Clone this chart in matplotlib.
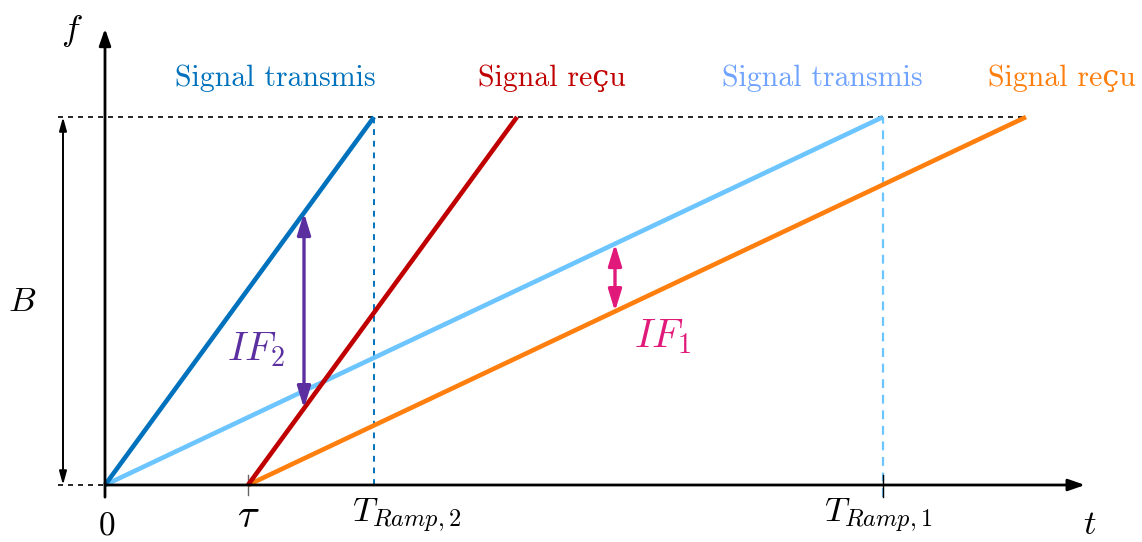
import matplotlib
matplotlib.use("Agg")
import matplotlib.pyplot as plt
import numpy as np

plt.rcParams['mathtext.fontset'] = 'cm'

# chirp parameters (arbitrary units, B = 1)
B = 1.0
tau = 1.43
T_ramp2 = 2.69
T_ramp1 = 7.78
t_if2 = 1.99
t_if1 = 5.10

c_tx2 = '#0072BD'
c_rx2 = '#C00000'
c_tx1 = '#6CC5FF'
c_tx1_txt = '#6FA3FF'
c_rx1 = '#FF7F0E'
c_if2 = '#5B2FA0'
c_if1 = '#E0197A'

text_font = ['cmr10', 'DejaVu Serif']

fig = plt.figure(figsize=(11.42, 5.42), dpi=100)
ax = fig.add_axes([0, 0, 1, 1])
ax.set_xlim(-1.05, 10.37)
ax.set_ylim(-0.1549, 1.318)
ax.axis('off')

# axes with arrows
ax.annotate('', xy=(9.80, 0), xytext=(0, 0),
            arrowprops=dict(arrowstyle='-|>,head_length=1.0,head_width=0.35', color='k', lw=2.0,
                            shrinkA=0, shrinkB=0))
ax.annotate('', xy=(0, 1.24), xytext=(0, -0.033),
            arrowprops=dict(arrowstyle='-|>,head_length=1.0,head_width=0.35', color='k', lw=2.0,
                            shrinkA=0, shrinkB=0))

# dashed level lines
ax.plot([-0.47, 0], [0, 0], ls=(0, (3, 3)), color='k', lw=1.2)
ax.plot([-0.47, tau + T_ramp1], [B, B], ls=(0, (3, 3)), color='k', lw=1.2)
ax.plot([T_ramp2, T_ramp2], [0, B], ls=(0, (3, 3)), color=c_tx2, lw=1.4)
ax.plot([T_ramp1, T_ramp1], [-0.033, B], ls=(0, (4, 3)), color=c_tx1, lw=1.6)

# small ticks
ax.plot([tau, tau], [-0.027, 0.027], color='0.4', lw=1.0)
ax.plot([T_ramp1, T_ramp1], [-0.033, 0.027], color='k', lw=1.0)

# B arrow
ax.annotate('', xy=(-0.42, B), xytext=(-0.42, 0),
            arrowprops=dict(arrowstyle='<|-|>,head_length=0.8,head_width=0.22', color='k', lw=1.4,
                            shrinkA=0, shrinkB=0))

# ramps
ax.plot([0, T_ramp1], [0, B], color=c_tx1, lw=3.3, solid_capstyle='butt')
ax.plot([tau, tau + T_ramp1], [0, B], color=c_rx1, lw=3.3, solid_capstyle='butt')
ax.plot([0, T_ramp2], [0, B], color=c_tx2, lw=3.3, solid_capstyle='butt')
ax.plot([tau, tau + T_ramp2], [0, B], color=c_rx2, lw=3.3, solid_capstyle='butt')

# IF arrows between transmitted and received ramps
f_top2 = B * t_if2 / T_ramp2
f_bot2 = B * (t_if2 - tau) / T_ramp2
ax.annotate('', xy=(t_if2, f_top2), xytext=(t_if2, f_bot2),
            arrowprops=dict(arrowstyle='<|-|>,head_length=1.3,head_width=0.4', color=c_if2, lw=2.4,
                            shrinkA=0, shrinkB=0))
f_top1 = B * t_if1 / T_ramp1
f_bot1 = B * (t_if1 - tau) / T_ramp1
ax.annotate('', xy=(t_if1, f_top1), xytext=(t_if1, f_bot1),
            arrowprops=dict(arrowstyle='<|-|>,head_length=1.3,head_width=0.4', color=c_if1, lw=2.4,
                            shrinkA=0, shrinkB=0))
ax.text(t_if2 - 0.48, 0.37, r'$IF_2$', color=c_if2, fontsize=29, ha='center', va='center')
ax.text(t_if1 + 0.48, 0.405, r'$IF_1$', color=c_if1, fontsize=29, ha='center', va='center')

# signal names
ax.text(1.70, 1.105, 'Signal transmis', color=c_tx2, fontsize=21.5, ha='center', va='center', family=text_font)
ax.text(4.47, 1.105, 'Signal reçu', color=c_rx2, fontsize=21.5, ha='center', va='center', family=text_font)
ax.text(7.17, 1.105, 'Signal transmis', color=c_tx1_txt, fontsize=21.5, ha='center', va='center', family=text_font)
ax.text(9.57, 1.105, 'Signal reçu', color=c_rx1, fontsize=21.5, ha='center', va='center', family=text_font)

# axis labels
ax.text(-0.33, 1.235, r'$f$', fontsize=26, ha='center', va='center')
ax.text(9.85, -0.105, r'$t$', fontsize=25, ha='center', va='center')
ax.text(-0.83, 0.50, r'$B$', fontsize=25, ha='center', va='center')
ax.text(0.02, -0.108, r'$0$', fontsize=24, ha='center', va='center')
ax.text(tau, -0.085, r'$\tau$', fontsize=29, ha='center', va='center')
ax.text(T_ramp2 + 0.33, -0.085, r'$T_{Ramp,2}$', fontsize=25, ha='center', va='center')
ax.text(T_ramp1 - 0.05, -0.085, r'$T_{Ramp,1}$', fontsize=25, ha='center', va='center')

fig.savefig('out.png', dpi=100)
